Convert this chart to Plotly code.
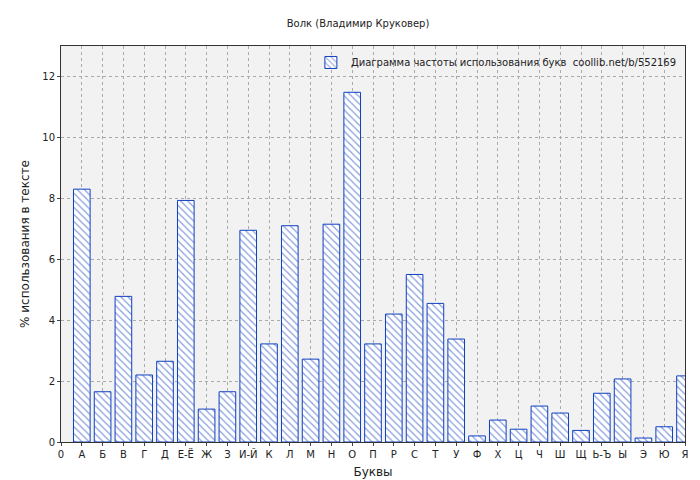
import plotly.graph_objects as go

letters = ["А","Б","В","Г","Д","Е-Ё","Ж","З","И-Й","К","Л","М","Н","О","П","Р","С","Т","У","Ф","Х","Ц","Ч","Ш","Щ","Ь-Ъ","Ы","Э","Ю","Я"]
values = [8.3,1.65,4.78,2.2,2.65,7.93,1.08,1.65,6.95,3.22,7.1,2.72,7.15,11.48,3.22,4.2,5.5,4.55,3.38,0.2,0.72,0.42,1.18,0.95,0.38,1.6,2.07,0.13,0.5,2.17]
positions = list(range(1, len(letters) + 1))
tick_vals = [0] + positions
tick_text = ["0"] + letters

blue = "#1040c0"
fig = go.Figure(go.Bar(
    x=positions, y=values, width=0.8,
    name="Диаграмма частоты использования букв  coollib.net/b/552169",
    marker=dict(color="white", line=dict(color=blue, width=1),
                pattern=dict(shape="\\", fgcolor=blue, bgcolor="white", size=5, solidity=0.25)),
    showlegend=True,
))
fig.update_layout(
    width=700, height=480,
    margin=dict(l=53, r=23, t=38, b=46),
    paper_bgcolor="white", plot_bgcolor="#f2f2f2",
    font=dict(family="DejaVu Sans", size=10, color="#222"),
    title=dict(text="Волк (Владимир Круковер)", x=0.5, y=0.975, xanchor="center", font=dict(size=10)),
    legend=dict(x=0.995, y=0.995, xanchor="right", yanchor="top", bgcolor="rgba(0,0,0,0)",
                itemwidth=30, font=dict(size=10)),
    bargap=0.2,
)
fig.update_xaxes(range=[0, 30], tickvals=tick_vals, ticktext=tick_text, tickangle=0, automargin=False,
                 showgrid=True, gridcolor="#aaa", griddash="dot", gridwidth=1,
                 showline=True, linecolor="#333", mirror=True, ticks="outside", ticklen=3,
                 title=dict(text="Буквы", standoff=8))
fig.update_yaxes(range=[0, 13], tickvals=[0,2,4,6,8,10,12], automargin=False,
                 showgrid=True, gridcolor="#aaa", griddash="dot", gridwidth=1,
                 showline=True, linecolor="#333", mirror=True, ticks="outside", ticklen=3,
                 zeroline=False,
                 title=dict(text="% использования в тексте", standoff=10))
fig.write_html("out.html")
